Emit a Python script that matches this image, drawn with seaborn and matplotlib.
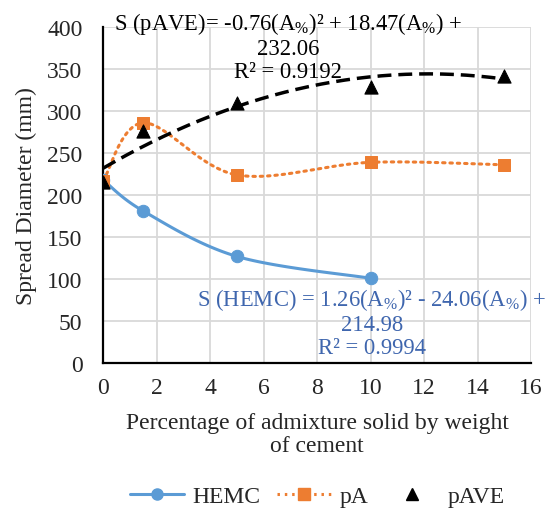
import numpy as np
import pandas as pd
import matplotlib
matplotlib.use("Agg")
import matplotlib.pyplot as plt
from matplotlib.lines import Line2D
import seaborn as sns

# data
x_hemc = [0, 1.5, 5, 10]
y_hemc = [218, 181, 127, 101]
x_pa = [0, 1.5, 5, 10, 15]
y_pa = [217, 286, 224, 239, 236]
x_pave = [0, 1.5, 5, 10, 15]
y_pave = [216, 276, 310, 329, 342]
# trendline coefficients shown on the chart (pAVE)
pave_coef = [-0.76, 18.47, 232.06]


def smooth(x, y, n=40):
    # Excel-like smoothed line (Catmull-Rom style bezier)
    p = np.column_stack([x, y]).astype(float)
    out = []
    for i in range(len(p) - 1):
        p0 = p[i - 1] if i > 0 else p[i]
        p1, p2 = p[i], p[i + 1]
        p3 = p[i + 2] if i + 2 < len(p) else p[i + 1]
        c1 = p1 + (p2 - p0) / 6
        c2 = p2 - (p3 - p1) / 6
        t = np.linspace(0, 1, n)[:, None]
        seg = (1 - t) ** 3 * p1 + 3 * (1 - t) ** 2 * t * c1 + 3 * (1 - t) * t ** 2 * c2 + t ** 3 * p2
        out.append(seg if i == 0 else seg[1:])
    s = np.vstack(out)
    return pd.DataFrame({"x": s[:, 0], "y": s[:, 1]})


sns.set_style("white")
plt.rcParams["font.family"] = ["Liberation Serif", "DejaVu Serif"]
plt.rcParams["mathtext.fontset"] = "custom"
plt.rcParams["mathtext.rm"] = "Liberation Serif"
plt.rcParams["mathtext.it"] = "Liberation Serif:italic"

FS = 17
FS_EQ = 16.3

fig = plt.figure(figsize=(5.52, 5.10), dpi=100)
ax = fig.add_axes([0.187, 0.286, 0.775, 0.659])

c_hemc = "#5B9BD5"
c_pa = "#ED7D31"

# HEMC
sns.lineplot(data=smooth(x_hemc, y_hemc), x="x", y="y", sort=False, estimator=None,
             color=c_hemc, lw=2.2, ax=ax, zorder=3)
sns.scatterplot(x=x_hemc, y=y_hemc, color=c_hemc, marker="o", s=80, edgecolor=c_hemc, ax=ax, zorder=4)

# pA
dfa = smooth(x_pa, y_pa)
ax.plot(dfa["x"], dfa["y"], color=c_pa, lw=2.2, ls=(0, (0.8, 1.6)),
        dash_capstyle="round", zorder=3)
sns.scatterplot(x=x_pa, y=y_pa, color=c_pa, marker="s", s=80, edgecolor=c_pa, ax=ax, zorder=4)

# pAVE trendline + markers
xt = np.linspace(0, 15, 200)
ax.plot(xt, np.polyval(pave_coef, xt), color="black", lw=2.5, dashes=(4, 2), zorder=3)
sns.scatterplot(x=x_pave, y=y_pave, color="black", marker="^", s=90, edgecolor="black", ax=ax, zorder=5)

ax.set_xlim(0, 16)
ax.set_ylim(0, 400)
ax.set_xticks(range(0, 17, 2))
ax.set_yticks(range(0, 401, 50))
ax.grid(True, color="#D9D9D9", lw=1.3)
ax.set_axisbelow(True)
for s in ["top", "right"]:
    ax.spines[s].set_visible(False)
for s in ["left", "bottom"]:
    ax.spines[s].set_color("black")
    ax.spines[s].set_linewidth(1.6)
ax.tick_params(axis="both", direction="in", length=6, width=1.5, color="black", labelsize=FS)
ax.tick_params(axis="x", pad=10)
ax.tick_params(axis="y", pad=15)
ax.set_xlabel("Percentage of admixture solid by weight\nof cement", fontsize=FS,
              labelpad=10, linespacing=1.15)
ax.set_ylabel("Spread Diameter (mm)", fontsize=FS, labelpad=7)

A = r"$\mathrm{A}_{\%}$"
ax.text(0.432, 0.943, "S (pAVE)= -0.76(" + A + ")² + 18.47(" + A + ") +\n232.06\nR² = 0.9192",
        transform=ax.transAxes, ha="center", va="center", fontsize=FS_EQ, color="black",
        linespacing=1.12, zorder=6)
ax.text(0.628, 0.122, "S (HEMC) = 1.26(" + A + ")² - 24.06(" + A + ") +\n214.98\nR² = 0.9994",
        transform=ax.transAxes, ha="center", va="center", fontsize=FS_EQ, color="#3F66AE",
        linespacing=1.12, zorder=6)

handles = [
    Line2D([], [], color=c_hemc, lw=2.2, marker="o", markersize=8),
    Line2D([], [], color=c_pa, lw=2.2, ls=(0, (0.8, 1.6)), marker="s", markersize=8),
    Line2D([], [], color="black", lw=0, marker="^", markersize=8),
]
fig.legend(handles, ["HEMC", "pA", "pAVE"], loc="center", bbox_to_anchor=(0.575, 0.025),
           ncol=3, frameon=False, fontsize=FS, handlelength=2.3, columnspacing=0.7,
           handletextpad=0.35)

fig.savefig("out.png", dpi=100)
